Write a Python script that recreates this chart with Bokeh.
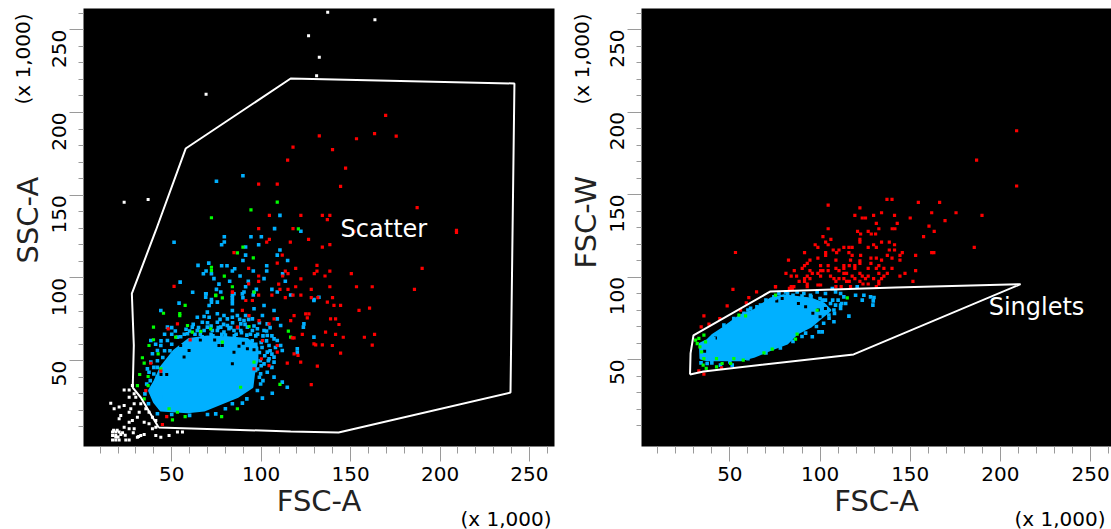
import math
from bokeh.embed import file_html
from bokeh.layouts import row
from bokeh.models import FixedTicker, Label, Title
from bokeh.plotting import figure
from bokeh.resources import INLINE

TICKS = [50, 100, 150, 200, 250]
MINOR = list(range(10, 270, 10))
UNIT = "(x 1,000)"

# ---- left plot: FSC-A (x) against SSC-A (y), values in thousands
left_gate = [(42.7, 9.7), (116.5, 7.3), (143.3, 6.6), (239.4, 30.8), (241.6, 217.5), (116.5, 220.5),
             (57.8, 178.2), (41.1, 128.7), (27.7, 90.6), (28.8, 59.2), (28.2, 33.8), (32.7, 27.8), (42.7, 9.7)]
left_core = [(37.3, 32), (40.1, 37.1), (43.9, 46.1), (51.3, 56.2), (59.7, 63.2), (69.9, 64.6), (81.1, 64.2),
             (92.3, 63.2), (97.9, 58.2), (97.9, 50.2), (96, 42.1), (95.1, 34), (86.7, 28), (77.4, 24), (68.1, 19.9),
             (58.8, 18.9), (43.9, 19.9), (40.1, 25)]
left_gaps = [(83.9, 48.2), (84.8, 55.2), (87.6, 58.8), (92.3, 57.2), (96, 56.6), (76.4, 59.2), (78.3, 59.2),
             (55, 59.2), (59.7, 56.2), (56.9, 52.2), (47.2, 41.7), (44, 41.7), (90, 60.5), (66, 62.5), (74, 62.5)]
left_white = [(137.2, 260.6), (163.6, 256), (126.5, 246.3), (132.5, 233.4), (131, 222.2), (69.2, 211), (23.4, 145.8),
              (36.8, 147.4), (16.9, 6.9), (18.7, 6.9), (20.6, 6.9), (16.9, 4.8), (18.7, 4.8), (21.5, 5.4), (16.9, 2.2),
              (18.7, 2.2), (20.6, 2.2), (24.3, 2.2), (26.2, 2.2), (30.8, 3.8), (32.7, 4.8), (34.6, 5.4), (26.2, 8.9), (29, 8.9),
              (28, 13.9), (23.4, 9.9), (20.6, 14.9), (23.4, 23), (20.6, 22), (17.8, 21), (15.9, 24.4), (23.4, 32.4),
              (26.2, 32.4), (28, 35), (29, 30), (29.9, 28), (26.2, 28), (32.7, 24), (35.5, 21), (37.3, 18.9),
              (39.2, 15.9), (41.1, 13.9), (41.1, 9.9), (39.2, 8.9), (41.1, 4.8), (43.9, 3.8), (48.5, 4.8), (53.2, 6.9),
              (56, 6.9), (37.3, 11.9), (34.6, 12.9), (30.8, 15.9), (27.1, 21), (21.5, 16.9), (26.2, 12.9), (31.8, 18.9),
              (29, 24), (26.2, 18.9), (18.7, 4), (20, 4), (22.5, 6.5), (31.5, 4.2), (28.5, 6.5), (24, 5), (19.5, 8), (17.5, 8)]
left_blue = [(75, 158.4), (89.8, 161.8), (110.5, 137.8), (107.5, 129.8), (122.2, 128.2), (79.4, 124.9), (94.3, 124.9),
             (100.1, 124.9), (79.4, 121.7), (77.9, 120.1), (98.6, 120.1), (91.3, 118.7), (110.5, 116.9), (91.3, 113.8),
             (109, 113.8), (89.8, 110.6), (114.8, 110.6), (77.9, 107.4), (80.9, 107.4), (103.1, 107.4), (70.7, 109),
             (69.2, 104.2), (67.7, 102.6), (72.2, 102.6), (83.9, 104.2), (85.2, 105.6), (95.6, 104.2), (103.1, 104.2),
             (88.2, 101.2), (112, 102.6), (73.6, 99.6), (82.4, 98), (92.8, 98), (101.6, 99.6), (113.5, 98), (76.4, 96.3),
             (91.3, 94.7), (97.3, 93.1), (106, 93.1), (75, 93.1), (69.2, 90.5), (77.4, 91.5), (90.4, 91.5), (84.8, 90.5),
             (109, 91.5), (116.5, 89.7), (89.8, 88.1), (95.6, 89.7), (83.9, 88.1), (72.2, 87), (129.5, 87),
             (51.3, 121.6), (54.7, 97.5), (61.7, 91.4), (64.7, 107.6), (69, 90.4), (72.2, 85.4), (69.9, 79.4),
             (70.9, 76.3), (68.1, 76.7), (67.1, 73.3), (75.5, 78.4), (79.2, 77.3), (81.1, 75.3), (75.5, 73.3),
             (77.4, 70.3), (81.1, 71.3), (83.9, 76.3), (83.9, 80.4), (83.9, 84.4), (83.9, 89.4), (75.5, 85.4),
             (70.9, 83.4), (90.4, 74.3), (88.6, 72.3), (92.3, 70.3), (95.1, 68.3), (97.9, 69.3), (101.6, 68.3),
             (103.4, 72.3), (100.7, 77.3), (96, 81.4), (101.6, 83.4), (107.2, 80.4), (109, 75.3), (95.1, 75.3),
             (86.7, 77.3), (91.3, 77.3), (103.4, 65.3), (107.2, 63.2), (110.9, 59.2), (109, 62.2), (111.8, 56.2),
             (107.2, 52.2), (107.2, 49.2), (103.4, 55.2), (101.6, 48.1), (104.4, 51.2), (99.7, 42.1), (96.9, 44.1),
             (103.4, 43.1), (107.2, 40.1), (111.8, 37.1), (114.6, 34), (106.2, 30.4), (100.7, 27.4), (97.9, 32),
             (99.7, 36), (89.5, 24.4), (83.9, 24), (74.6, 17.9), (43.9, 80.4), (47.6, 70.3), (54.1, 84.8), (64.3, 76.3),
             (61.5, 70.3), (64.3, 68.3), (58.8, 66.3), (53.2, 64.3), (47.6, 62.2), (43.9, 59.2), (42, 56.2), (38.3, 62.2),
             (39.2, 54.2), (38.3, 49.2), (36.4, 45.1), (37.3, 43.1), (69.9, 70.3), (72.7, 68.3), (68.1, 68.3), (84.8, 68.3),
             (88.6, 68.3), (79.2, 67.3), (75.5, 68.3), (82, 69.3), (83.9, 86.4), (69, 88.4), (89.5, 90.4), (96, 91.4),
             (123.9, 72.3), (123.6, 70.3), (129.5, 86.4), (132.3, 88.4), (120.2, 57.2), (120.2, 55), (129.5, 64.3),
             (110.9, 71.3), (104.4, 59.2), (100.5, 58), (103, 62), (99.5, 50), (106, 46), (60, 68), (57, 66), (50, 60),
             (46, 56), (42, 50), (40, 46), (66, 66), (72, 66), (78, 66), (86, 66), (92, 65.5), (97, 65), (100, 61),
             (50, 66), (52, 68), (55, 64.5), (58, 69), (62, 72), (63, 66), (65, 70), (67, 64.5), (70, 73), (72, 71),
             (73, 65), (76, 70), (77, 75), (79, 72), (80, 65.5), (83, 70), (84, 73), (85, 65), (87, 70), (88, 75), (89, 67),
             (91, 72), (93, 75), (94, 66), (96, 71), (98, 66), (99, 73), (101, 65), (103, 68), (105, 70), (106, 65), (108, 58),
             (105, 56), (102, 53), (100, 47), (99, 40), (98, 45), (101, 38), (104, 50), (106, 54), (97, 60), (99, 55), (95, 62),
             (88, 62), (42, 40), (38, 38), (36, 36), (35, 30), (41, 60), (44, 62), (46, 66), (50, 70), (49, 56), (45, 52),
             (42, 46), (40, 42), (44, 28), (37, 24), (42, 18), (50, 17.5), (60, 17), (70, 17.5), (80, 21), (92, 27)]
left_green = [(109, 145.8), (94.3, 141.2), (72.2, 136.4), (120.8, 129.7), (89.8, 118.6), (95.6, 112.2), (72.2, 106.5),
              (72.2, 104.5), (79.4, 101.1), (83.9, 94.7), (74.6, 89.6), (78.3, 88), (96, 91.4), (86.7, 115.2),
              (74.6, 89.4), (45.4, 78.7), (57.5, 83.4), (54.5, 77.3), (54.5, 78.5), (39.8, 70.3), (39.8, 62.7), (37.3, 59.2),
              (33.6, 51.8), (34.6, 48.6), (32.1, 41.7), (36.8, 40.5), (36.8, 35), (30.8, 35), (34.6, 27), (43.9, 45.1),
              (42.4, 54.2), (52.2, 64.3), (58.8, 71.3), (61.5, 67.3), (66.2, 67.7), (71.8, 69.3), (78.3, 61.2), (93.2, 70.7),
              (96, 49.2), (88.5, 34), (86.7, 21), (77.9, 16.3), (57.5, 16.3), (53.2, 18.9), (50.4, 14.3), (48.5, 21),
              (110.5, 35.7), (115.2, 67.9), (116.5, 64.3)]
left_red = [(169.6, 198.2), (132.5, 185.8), (153.3, 184.1), (163.4, 187.2), (175.5, 185.7), (117.8, 179.1), (139.9, 177.5),
            (114.8, 171.2), (147.2, 166.4), (98.6, 156.7), (109, 156.7), (144.4, 155.3), (187.2, 142.5), (104.6, 137.8),
            (122.2, 137.8), (134.2, 137.8), (138.4, 137.8), (137, 135.2), (98.6, 129.8), (117.8, 129.8), (151.9, 128.2),
            (209.2, 128.8), (209.2, 127.5), (104.6, 123.3), (103.1, 121.7), (116.3, 121.7), (126.5, 123.3), (134.2, 118.7),
            (138.4, 120.1), (111.8, 113.8), (109, 109), (131.2, 107.6), (93, 105.8), (119.3, 105.8), (190, 105.8),
            (113.5, 104.2), (115, 102.6), (129.7, 102.6), (131.2, 104.2), (138.4, 104.2), (150.4, 102.6), (98.6, 101.2),
            (112, 101.2), (135.7, 101.2), (98.6, 98), (122.2, 99.5), (109.8, 96.3), (119.3, 94.7), (128, 93.1), (138.4, 94.7),
            (153.3, 94.7), (162.1, 94.7), (185.7, 93.1), (110.5, 93.1), (115, 93.1), (98.6, 89.7), (106, 89.7), (117.8, 89.7),
            (122.2, 89.7), (113.5, 88.1), (128, 88.1), (131.7, 88.1), (139.9, 88.1), (84.8, 115.3), (93, 96.5), (84, 91.5),
            (116.5, 74.3), (118.4, 77.3), (124.9, 78.3), (126.7, 78.3), (125.8, 75.9), (137, 85.4), (140.7, 83.4),
            (138.8, 75.3), (141.6, 75.3), (143.5, 71.9), (154.7, 80.4), (136, 67.3), (141.6, 65.9), (145.9, 64.2), (139.8, 59.2),
            (144.4, 54.6), (129.5, 60.2), (130.5, 59.6), (134.2, 59.6), (118.4, 63.8), (123, 65.9), (117.4, 63.8), (118.4, 54.2),
            (120.6, 53.2), (122.1, 49.2), (114.6, 48.6), (131.4, 46.7), (128, 35.6), (109, 59.2), (109, 55.2), (100.7, 62.2),
            (100.1, 51.2), (96, 45.1), (104.4, 47.1), (86.7, 70.3), (93.2, 77.3), (98.8, 74.3), (104.4, 72.3), (107.2, 75.3),
            (89.5, 80.4), (91.4, 86.4), (83.9, 91.4), (95.1, 86.4), (53.2, 72.3), (48, 69.3), (60.3, 62.6), (51.3, 94.9),
            (38.3, 48.5), (43.9, 43.7), (35.5, 32), (47.2, 16.3), (44.8, 11.5), (144.4, 83.4), (160.6, 81.8), (157.7, 64.2),
            (163.4, 65.9), (162.1, 59.4)]

# ---- right plot: FSC-A (x) against FSC-W (y), values in thousands
right_gate = [(27.9, 41), (35.4, 42.8), (118.6, 53.1), (211.2, 95.7), (141.9, 93.7), (72.5, 91.3), (29.8, 64.6),
              (28.2, 53.7), (27.9, 41)]
right_core = [(33.7, 50.6), (33.4, 59.7), (37.4, 61.8), (40.2, 64.8), (45.7, 68.8), (55.9, 76.9), (63.3, 79.9), (72.5, 87),
              (79.9, 89), (87.3, 88), (94.7, 87), (102.1, 84), (105.8, 79.9), (100.3, 74.9), (94.7, 69.8), (87.3, 65.8),
              (81.8, 59.7), (74.4, 56.7), (63.3, 51.7), (55.9, 49.6), (44.8, 49.6), (37.4, 49.6)]
right_gaps = [(92, 82), (96, 78), (99, 80), (103, 81), (88, 84), (79, 87), (76, 85.5), (100, 76), (42, 63), (36, 55)]
right_blue = [(106.8, 93), (108.6, 91), (111.4, 90), (113.2, 88), (114.2, 84), (111.4, 81), (107.7, 80), (104.9, 77),
              (107.7, 72.9), (101.2, 66.8), (99.4, 66.8), (95.7, 63.8), (97.5, 73.9), (116, 76.3), (120.6, 94.1), (124.3, 89),
              (119.7, 89), (128, 88), (129.9, 87.6), (129.5, 85.6), (123.4, 86), (129.3, 83), (103, 90), (101.2, 86), (98.4, 91),
              (94.7, 89), (91, 90), (87.3, 91), (80.9, 91), (105.8, 84), (108.6, 83), (111.4, 83), (74.4, 88), (77.2, 90), (67, 83),
              (61.5, 81), (57.8, 78), (52.2, 74.9), (46.7, 70.9), (41.1, 62.8), (38.3, 60.7), (37.4, 47.6), (44.8, 46.6),
              (51.3, 46.6), (60, 80), (65, 82), (70, 86), (75, 87), (82, 90), (85, 89), (90, 88.5), (95, 88), (100, 87), (103, 86),
              (107, 86), (110, 86), (112, 84), (108, 78), (105, 75), (102, 72), (98, 70), (92, 66), (90, 64), (85, 61), (78, 57),
              (70, 54), (60, 50.5), (50, 48.5), (40, 48), (34, 48)]
right_green = [(31, 61.8), (31.9, 59.7), (33.4, 57.7), (35.6, 64.8), (36.5, 60.7), (32.8, 62.8), (34.3, 54.7), (35.6, 50.6),
               (35.2, 46.6), (36.9, 44.6), (42.6, 50.6), (42.6, 45.6), (45.7, 47.6), (50.4, 47.6), (52.2, 50.6), (57.4, 49.6),
               (68.9, 54.1), (73.5, 56.3), (87.3, 65.4), (86.4, 62.4), (98.4, 79.9), (115.1, 87.4), (75.3, 89), (55, 76.9),
               (58.7, 76.5)]
right_red = [(209, 188.7), (186.8, 170.9), (209, 155.2), (185.5, 118), (104.5, 143.6), (122.1, 142), (137.1, 147.1),
             (139.9, 147.1), (154.5, 145.3), (166.3, 145.3), (161.9, 139), (175.4, 139), (189.8, 137.4), (119.3, 137.4),
             (123.4, 135.8), (125.2, 135.8), (129.7, 137.4), (134.1, 139), (141.3, 137.4), (150, 135.8), (169.3, 134.2),
             (131.2, 132.5), (142.8, 132.5), (160.4, 130.9), (104.5, 129.3), (120.8, 127.7), (126.7, 127.7), (132.6, 129.3),
             (140, 129.3), (141.5, 129.3), (163.3, 127.7), (122.5, 126.1), (128.4, 126.1), (130.8, 126.1), (101.6, 124.5),
             (157.4, 124.5), (106, 122.8), (122.1, 122.8), (122.1, 121.2), (103.1, 121.2), (134.1, 121.2), (138.4, 121.2),
             (97.3, 119.6), (104.5, 119.6), (129.7, 119.6), (141.3, 119.6), (98.8, 118), (113.2, 118), (116, 118), (117.8, 118),
             (126.7, 118), (131.2, 118), (107.3, 116.4), (110.5, 116.4), (109.2, 114.8), (116, 114.8), (138.4, 116.4),
             (141.3, 116.4), (145.6, 114.8), (161.9, 114.8), (163.1, 114.8), (91.4, 114.8), (103.1, 114.8), (103.1, 113.2),
             (117.8, 113.2), (122.5, 113.2), (137.3, 113.2), (144.3, 113.2), (153, 113.2), (98.8, 111.5), (128.2, 111.5),
             (131.2, 111.5), (139.9, 111.5), (82.5, 110.3), (94.4, 110.3), (108.8, 110.3), (116.9, 110.3), (122.1, 109.9),
             (122.1, 108.3), (134.1, 110.3), (144.3, 110.3), (92.9, 108.3), (91.4, 106.9), (128.2, 108.3), (100.3, 106.9),
             (104.5, 106.9), (113.2, 106.9), (116.2, 106.9), (119.3, 106.9), (119.3, 105.3), (132.6, 106.9), (90.1, 105.3),
             (108.8, 105.3), (113.2, 105.3), (126.7, 105.3), (131.2, 105.3), (135.4, 105.3), (139.9, 105.3), (85.7, 103.9),
             (94.4, 103.9), (100.3, 103.9), (101.6, 103.9), (104.5, 103.9), (110.5, 103.9), (153, 103.9), (81.1, 102.2),
             (95.7, 102.2), (98.8, 102.2), (113.2, 102.2), (114.7, 102.2), (122.1, 102.2), (132.6, 102.2), (137.3, 102.2),
             (147.1, 102.2), (84, 100.6), (87, 100.6), (92.9, 100.6), (100.3, 100.6), (105.8, 100.6), (117.8, 100.6),
             (123.4, 100.6), (126.7, 100.6), (135.4, 100.6), (144.3, 100.6), (91.4, 99), (94.4, 99), (107.7, 99), (110.5, 99),
             (113.2, 99), (119.3, 99), (125.2, 99), (129.7, 99), (134.1, 99), (88.4, 97.4), (91.4, 97.4), (108.8, 97.4),
             (114.7, 97.4), (116.2, 97.4), (122.1, 97.4), (132.6, 97.4), (151.5, 97.4), (92.9, 95.8), (123.8, 95.8), (126.7, 95.8),
             (132.6, 95.8), (75.3, 94.2), (84, 94.2), (85.5, 94.2), (92.9, 94.2), (98.8, 95.2), (100.3, 95.2), (108.8, 94.2),
             (111.7, 94.2), (116.9, 94.2), (131.2, 94.2), (53.1, 114.9), (51.7, 92.5), (64.8, 91), (60.5, 87.6), (59.1, 84.4),
             (55.9, 79.9), (48.5, 82.6), (44.4, 74.9), (38.4, 71.5), (35.6, 76.5), (34.1, 69.8), (75.3, 94.1), (84.6, 93.1),
             (83, 93.1), (32.8, 43.2), (35.6, 41.2), (45.4, 45)]

BLUE = "#00b0ff"
RED = "#ff0000"
GREEN = "#00ff00"
WHITE = "#ffffff"
GRAY = "#9a9a9a"
FONT = "DejaVu Sans"


def dots(p, pts, color, size=3.6):
    p.scatter([q[0] for q in pts], [q[1] for q in pts], marker="square", size=size, color=color, line_color=None)


def side_title(p, text, where, align, offset, standoff, size, color, vertical_align="bottom"):
    p.add_layout(Title(text=text, align=align, offset=offset, standoff=standoff, text_color=color, text_font=FONT,
                       text_font_style="normal", text_font_size=size, vertical_align=vertical_align), where)


def panel(border_left, border_right, border_top, border_bottom, frame_w, frame_h, xr, yr, ylabel, ylabel_offset, unit_y_offset,
          unit_x_offset, unit_y_standoff, unit_x_standoff, core, gaps, white, blue, green, red, gate, name, name_xy):
    p = figure(frame_width=frame_w, frame_height=frame_h, x_range=xr, y_range=yr,
               output_backend="svg", toolbar_location=None, min_border_left=border_left, min_border_right=border_right,
               min_border_top=border_top, min_border_bottom=border_bottom, background_fill_color="black",
               border_fill_color="white", outline_line_color=None)
    p.grid.visible = False
    for ax, major_len, minor_len in ((p.xaxis[0], 15, 7), (p.yaxis[0], 14, 5)):
        ax.ticker = FixedTicker(ticks=TICKS, minor_ticks=MINOR)
        ax.axis_line_color = None
        ax.major_tick_line_color = GRAY
        ax.minor_tick_line_color = GRAY
        ax.major_tick_in = 0
        ax.minor_tick_in = 0
        ax.major_tick_out = major_len
        ax.minor_tick_out = minor_len
        ax.major_label_text_font = FONT
        ax.major_label_text_font_size = "20px"
        ax.major_label_text_color = "black"
    p.xaxis.axis_label = "FSC-A"
    p.xaxis.axis_label_text_font = FONT
    p.xaxis.axis_label_text_font_style = "normal"
    p.xaxis.axis_label_text_font_size = "29px"
    p.xaxis.axis_label_text_color = "#222222"
    p.xaxis.axis_label_standoff = 0
    p.xaxis.major_label_standoff = 5
    p.yaxis.major_label_orientation = math.pi / 2
    p.yaxis.major_label_standoff = 10

    dots(p, white, WHITE, 3)
    p.patch([q[0] for q in core], [q[1] for q in core], fill_color=BLUE, line_color=BLUE, line_width=2)
    dots(p, gaps, "black", 3)
    dots(p, blue, BLUE)
    dots(p, green, GREEN, 3.2)
    dots(p, red, RED, 3.2)
    p.line([q[0] for q in gate], [q[1] for q in gate], line_color=WHITE, line_width=2)
    p.add_layout(Label(x=name_xy[0], y=name_xy[1], text=name, text_color=WHITE, text_font=FONT, text_font_size="24px"))
    side_title(p, ylabel, "left", "left", ylabel_offset, -4, "29px", "#222222")
    side_title(p, UNIT, "left", "right", unit_y_offset, unit_y_standoff, "20px", "black")
    side_title(p, UNIT, "below", "right", unit_x_offset, unit_x_standoff, "20px", "black", "top")
    return p


left = panel(83, 14, 8, 83, 471, 438, (0.67, 264), (-1.8, 262.8), "SSC-A", 183, 5, 3, -49, -28, left_core, left_gaps,
             left_white, left_blue, left_green, left_red, left_gate, "Scatter", (144.4, 121))
right = panel(73, 0, 5, 86, 470, 438, (1, 261.6), (-2.7, 262.8), "FSC-W", 178, 5, 6, -50, -28, right_core, right_gaps,
              [], right_blue, right_green, right_red, right_gate, "Singlets", (193.5, 73.1))

page = row(left, right, spacing=0)
open("out.html", "w").write(file_html(page, INLINE))
